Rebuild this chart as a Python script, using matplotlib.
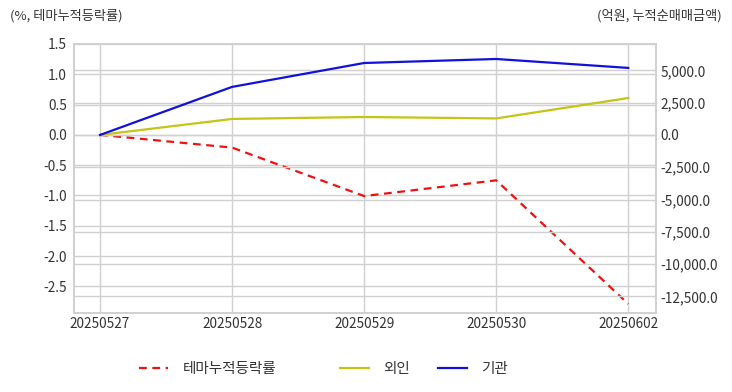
import matplotlib
matplotlib.use("Agg")
import matplotlib.pyplot as plt
from matplotlib.ticker import FuncFormatter

plt.rcParams['font.family'] = ['Noto Sans CJK KR', 'DejaVu Sans']

dates = ['20250527', '20250528', '20250529', '20250530', '20250602']
theme_rate = [0.0, -0.21, -1.01, -0.75, -2.79]     # %, left axis
foreign = [0.0, 1240.0, 1390.0, 1280.0, 2860.0]    # 억원, right axis
inst = [0.0, 3720.0, 5570.0, 5880.0, 5190.0]       # 억원, right axis

left_ticks = [1.5, 1.0, 0.5, 0.0, -0.5, -1.0, -1.5, -2.0, -2.5]
right_ticks = [5000, 2500, 0, -2500, -5000, -7500, -10000, -12500]

grid_c = '#d0d0d0'
text_c = '#333333'

fig = plt.figure(figsize=(7.32, 3.92), dpi=100)
ax = fig.add_axes([74/732, 1 - 313/392, (656-74)/732, (313-44)/392])
ax2 = ax.twinx()

x = range(len(dates))
l1, = ax.plot(x, theme_rate, color='#ee1111', lw=1.6, ls=(0, (3.5, 2.5)), label='테마누적등락률')
l2, = ax2.plot(x, foreign, color='#c4c414', lw=1.6, label='외인')
l3, = ax2.plot(x, inst, color='#1111dd', lw=1.6, label='기관')

ax.set_xlim(-0.197, 4.21)
ax.set_ylim(-2.94, 1.5)
ax2.set_ylim(-13780, 7040)

ax.set_xticks(list(x))
ax.set_xticklabels(dates)
ax.set_yticks(left_ticks)
ax.yaxis.set_major_formatter(FuncFormatter(lambda v, p: f'{v:.1f}'))
ax2.set_yticks(right_ticks)
ax2.yaxis.set_major_formatter(FuncFormatter(lambda v, p: f'{v:,.1f}'))

ax.grid(True, color=grid_c, lw=1)
ax2.grid(True, axis='y', color=grid_c, lw=1)
ax.set_axisbelow(True)
ax2.set_axisbelow(True)

for a in (ax, ax2):
    for s in a.spines.values():
        s.set_color(grid_c)
        s.set_linewidth(1.2)
    a.tick_params(length=0, labelsize=9.8, colors=text_c)
ax.tick_params(axis='y', pad=5)
ax2.tick_params(axis='y', pad=3)
ax.tick_params(axis='x', pad=3)

fig.text(10/732, 1 - 16/392, '(%, 테마누적등락률)', fontsize=9.5, color=text_c, va='center', ha='left')
fig.text(722/732, 1 - 16/392, '(억원, 누적순매매금액)', fontsize=9.5, color=text_c, va='center', ha='right')

fig.legend(handles=[l1], loc='center', bbox_to_anchor=(208/732, 1 - 369/392), frameon=False,
           fontsize=10.5, handlelength=2.0, handletextpad=1.0, labelcolor=text_c)
fig.legend(handles=[l2, l3], loc='center', bbox_to_anchor=(424/732, 1 - 369/392), frameon=False,
           fontsize=10.5, handlelength=2.0, handletextpad=1.0, ncol=2, columnspacing=1.9,
           labelcolor=text_c)

fig.savefig('out.png', dpi=100)
